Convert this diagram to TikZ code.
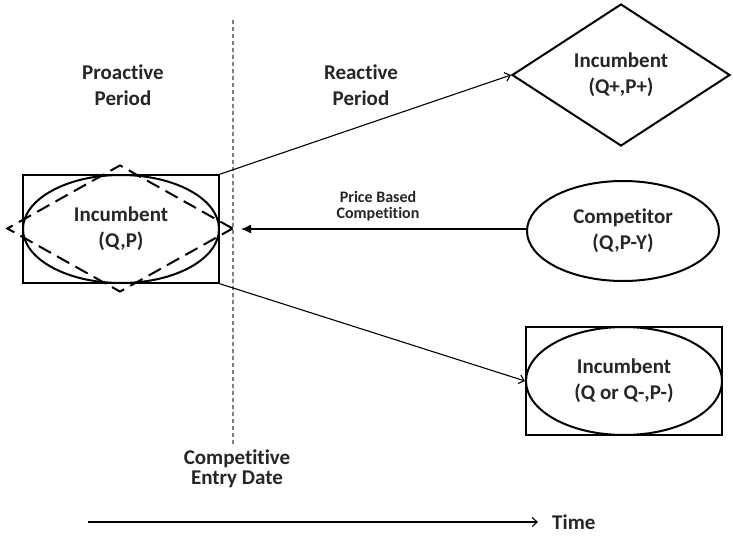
\documentclass[tikz,border=0pt]{standalone}
\usepackage{fontspec}
\setmainfont{Carlito}[Ligatures=NoCommon]
\usetikzlibrary{shapes.geometric,arrows.meta}
\begin{document}
\begin{tikzpicture}[x=1pt,y=-1pt,
  txt/.style={font=\bfseries\fontsize{21}{26}\selectfont, align=center, inner sep=0pt, text=black!85},
  tighttxt/.style={font=\bfseries\fontsize{21}{20}\selectfont, align=center, inner sep=0pt, text=black!85},
  smalltxt/.style={font=\bfseries\fontsize{16}{16}\selectfont, align=center, inner sep=0pt, text=black!85},
  boxshape/.style={draw, line width=1.5pt, inner sep=0pt, minimum width=196pt, minimum height=108pt},
  ellshape/.style={ellipse, draw, line width=2pt, inner sep=0pt},
  conn/.style={line width=1.1pt, -{Straight Barb[length=5pt,width=9pt,line width=1.1pt]}},
  dotline/.style={gray, line width=1.3pt, dash pattern=on 4pt off 3pt}
]
\fill[white] (0,0) rectangle (733,538);
\useasboundingbox (0,0) rectangle (733,538);

% left group
\node[boxshape] (lrect) at (121,229) {};
\node[ellshape, minimum width=196pt, minimum height=108pt] (lell) at (121,229) {};
\node[diamond, draw, line width=2pt, dash pattern=on 14pt off 7pt, aspect=1.78,
      minimum width=226pt, minimum height=127pt, inner sep=0pt] (ldia) at (120,228.5) {};
\node[txt] (linc) at (121,229) {Incumbent\\(Q,P)};

% divider
\coordinate (vtop) at (233,20);
\coordinate (vbot) at (233,447);
\draw[dotline] (vtop) -- (vbot);

% headings
\node[txt] (pro) at (123,85) {Proactive\\Period};
\node[txt] (rea) at (361,85) {Reactive\\Period};
\node[tighttxt] (ced) at (237,469) {Competitive\\Entry Date};

% top right diamond
\node[diamond, draw, line width=2pt, aspect=1.55, minimum width=218pt, minimum height=142pt,
      inner sep=0pt] (dia) at (621,75) {};
\node[txt] (dinc) at (621,75) {Incumbent\\(Q+,P+)};

% competitor
\node[ellshape, txt, draw, line width=2pt, minimum width=192pt, minimum height=100pt] (comp) at (623,231) {Competitor\\(Q,P-Y)};

% bottom right
\node[boxshape] (brect) at (624,381) {};
\node[ellshape, minimum width=196pt, minimum height=108pt] (bell) at (624,381) {};
\node[txt] (binc) at (624,381) {Incumbent\\(Q or Q-,P-)};

% connectors
\draw[conn] (lrect.north east) -- (dia.west);
\draw[conn] (lrect.south east) -- (bell.west);
\coordinate (ptip) at (241,229);
\draw[line width=1.3pt, -{Latex[length=10pt,width=9pt]}] (comp.west |- ptip) -- (ptip);
\node[smalltxt] (plab) at (378,206) {Price Based\\Competition};

% time axis
\coordinate (t0) at (88,522);
\coordinate (t1) at (538,522);
\node[txt, anchor=west] (time) at (552,522) {Time};
\draw[conn] (t0) -- (t1);
\end{tikzpicture}
\end{document}
